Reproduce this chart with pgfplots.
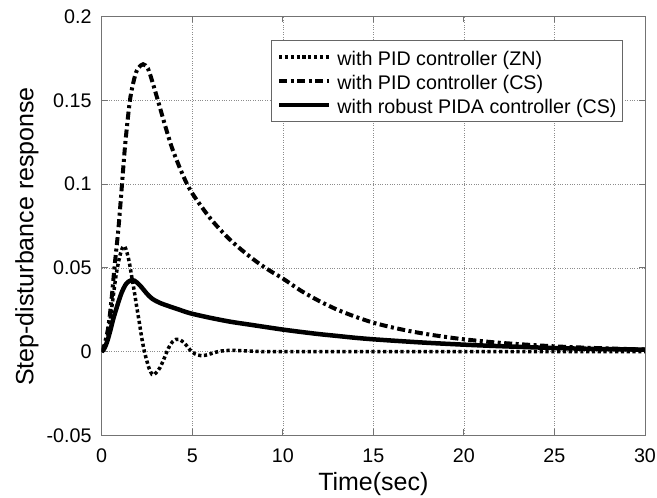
\documentclass[border=0pt]{standalone}
\usepackage{fontspec}
\setmainfont{Liberation Sans}
\usepackage{pgfplots}
\pgfplotsset{compat=1.18}
\begin{document}
\begin{tikzpicture}
\path[use as bounding box] (-101.7pt,-62.5pt) rectangle (555.3pt,435.5pt);
\begin{axis}[
 at={(0pt,0pt)}, anchor=south west,
 scale only axis, width=543.3pt, height=419pt,
 xmin=0, xmax=30, ymin=-0.05, ymax=0.2,
 xtick={0,5,...,30},
 ytick={-0.05,0,0.05,0.1,0.15,0.2},
 yticklabels={-0.05,0,0.05,0.1,0.15,0.2},
 /pgf/number format/assume math mode=true,
 tick label style={font=\fontsize{19.7}{22}\selectfont, text=black},
 xticklabel style={anchor=base, yshift=-27pt},
 yticklabel style={anchor=east, inner sep=0pt, xshift=-10pt},
 label style={font=\fontsize{25}{28}\selectfont},
 xlabel={Time(sec)},
 ylabel={Step-disturbance response},
 xlabel style={at={(axis description cs:0.5,-0.1313)}, anchor=base},
 ylabel style={at={(axis description cs:-0.1259,0.475)}, anchor=base},
 grid=major,
 major grid style={dotted, black!45, line width=0.5pt},
 axis line style={black!55, line width=0.8pt},
 tick style={black!55, line width=0.8pt},
 tick align=inside, major tick length=6pt,
 legend image code/.code={\draw[#1] (0pt,0pt) -- (50pt,0pt);},
 legend cell align=left,
 legend style={at={(axis description cs:0.9595,0.944)}, anchor=north east,
   draw=black!60, line width=0.8pt, font=\fontsize{19.7}{22}\selectfont,
   inner xsep=6pt, inner ysep=5.7pt, row sep=2pt, column sep=6pt,
   nodes={inner sep=0pt, text height=19pt, text depth=3pt}},
]
\addplot[black, line width=3.5pt, dash pattern=on 3.2pt off 2.6pt, smooth] coordinates {
(0,0) (0.2,0.003) (0.4,0.014) (0.6,0.03) (0.8,0.046) (1.0,0.057) (1.15,0.062) (1.27,0.0628)
(1.4,0.059) (1.53,0.053) (1.66,0.0447) (1.8,0.036) (1.93,0.027) (2.07,0.018) (2.2,0.009)
(2.34,0.001) (2.48,-0.005) (2.62,-0.010) (2.78,-0.0135) (2.9,-0.0135) (3.05,-0.012)
(3.22,-0.0095) (3.45,-0.004) (3.68,0.002) (3.9,0.0058) (4.1,0.0073) (4.25,0.0074)
(4.45,0.0062) (4.7,0.0035) (4.9,0.0008) (5.15,-0.0013) (5.5,-0.0024) (5.85,-0.0018)
(6.2,-0.0006) (6.6,0.0004) (7.1,0.0008) (7.7,0.0006) (8.5,0.0002) (9.5,0) (12,0) (15,0)
(20,0) (25,0) (30,0)};
\addlegendentry{with PID controller (ZN)}
\addplot[black, line width=4pt, dash pattern=on 8pt off 3.5pt on 3pt off 3.5pt, smooth] coordinates {
(0,0) (0.15,0.004) (0.37,0.015) (0.55,0.032) (0.73,0.053) (0.92,0.073) (1.1,0.097)
(1.3,0.124) (1.56,0.150) (1.8,0.163) (2.0,0.169) (2.29,0.1715) (2.55,0.169) (2.8,0.161)
(3.1,0.150) (3.5,0.135) (3.87,0.122) (4.3,0.110) (4.69,0.1005) (5.0,0.0945) (5.5,0.0867)
(6.0,0.0795) (6.5,0.0733) (7.0,0.0677) (7.5,0.0628) (8.0,0.0583) (8.5,0.0541) (9.0,0.0503)
(9.5,0.0469) (10,0.0437) (11,0.0364) (12,0.0303) (13,0.0251) (14,0.0209) (15,0.0173)
(16,0.0146) (17,0.0123) (18,0.0104) (19,0.0088) (20,0.0074) (22,0.0053) (25,0.0032)
(27.5,0.0021) (30,0.0013)};
\addlegendentry{with PID controller (CS)}
\addplot[black, line width=4.5pt, smooth] coordinates {
(0,0) (0.15,0.002) (0.3,0.006) (0.46,0.012) (0.65,0.020) (0.92,0.0295) (1.1,0.0352)
(1.29,0.0395) (1.45,0.0416) (1.66,0.0427) (1.8,0.0424) (1.95,0.0413) (2.2,0.0385)
(2.48,0.0348) (2.8,0.0315) (3.22,0.0291) (3.7,0.0272) (4.3,0.0250) (4.9,0.0229)
(6.0,0.0202) (7.1,0.0179) (8.2,0.0161) (9.0,0.0148) (10,0.0132) (11,0.0118) (12,0.0105)
(13,0.0094) (14,0.0083) (15,0.0074) (16.5,0.0063) (18,0.0053) (20,0.0042) (22,0.0033)
(25,0.0022) (27.5,0.0016) (30,0.0012)};
\addlegendentry{with robust PIDA controller (CS)}
\end{axis}
\end{tikzpicture}
\end{document}
